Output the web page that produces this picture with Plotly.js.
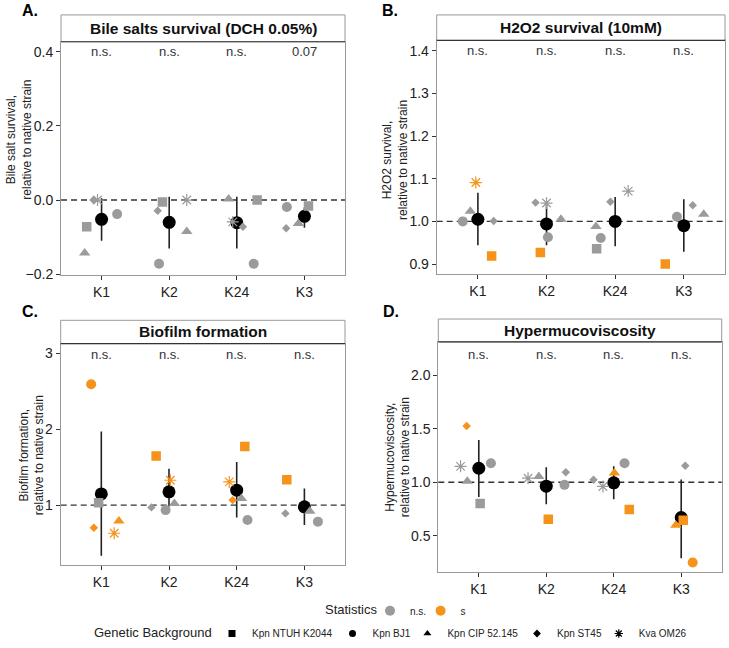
<!DOCTYPE html>
<html><head><meta charset="utf-8">
<script src="https://cdn.plot.ly/plotly-3.0.1.min.js"></script>
<style>html,body{margin:0;padding:0;background:#fff}#chart{width:729px;height:648px}</style>
</head><body><div id="chart"></div>
<script>
// ---------- data ----------
const categories = ['K1', 'K2', 'K24', 'K3'];
const backgrounds = ['Kpn NTUH K2044', 'Kpn BJ1', 'Kpn CIP 52.145', 'Kpn ST45', 'Kva OM26'];
const statLabels = ['n.s.', 's'];

// rows = backgrounds (order as above), cols = categories
const bileVals = [
  [-0.072, -0.005, 0.000, -0.016],
  [-0.038, -0.172, -0.172, -0.019],
  [-0.143, -0.085, 0.003, -0.063],
  [0.000, -0.029, -0.072, -0.076],
  [0.000, 0.000, -0.059, null]
];
const bileSig = [[0,0,0,0],[0,0,0,0],[0,0,0,0],[0,0,0,0],[0,0,0,0]];
const bileJitter = [
  [-0.22, -0.10, 0.30, 0.06],
  [0.23, -0.15, 0.25, -0.26],
  [-0.25, 0.26, -0.12, -0.09],
  [-0.12, -0.17, 0.09, -0.27],
  [-0.06, 0.26, -0.06, 0]
];
const bileMean = [-0.052, -0.060, -0.061, -0.044];
const bileLow = [-0.110, -0.131, -0.131, -0.075];
const bileHigh = [0.005, 0.009, 0.009, -0.020];
const bileP = ['n.s.', 'n.s.', 'n.s.', '0.07'];

const h2o2Vals = [
  [0.919, 0.927, 0.936, 0.900],
  [1.000, 0.963, 0.961, 1.011],
  [1.024, 1.005, 0.988, 1.017],
  [1.001, 1.044, 1.046, 1.038],
  [1.091, 1.043, 1.071, null]
];
const h2o2Sig = [[1,1,0,1],[0,0,0,0],[0,0,0,0],[0,0,0,0],[1,0,0,0]];
const h2o2Jitter = [
  [0.20, -0.09, -0.27, -0.27],
  [-0.22, 0.02, -0.21, -0.10],
  [-0.11, 0.21, -0.28, 0.29],
  [0.23, -0.16, -0.07, 0.13],
  [-0.03, 0.00, 0.19, 0]
];
const h2o2Mean = [1.005, 0.994, 1.000, 0.990];
const h2o2Low = [0.944, 0.944, 0.942, 0.929];
const h2o2High = [1.067, 1.048, 1.057, 1.052];
const h2o2P = ['n.s.', 'n.s.', 'n.s.', 'n.s.'];

const biofilmVals = [
  [1.030, 1.646, 1.773, 1.336],
  [2.594, 0.934, 0.803, 0.782],
  [0.790, 1.020, 1.087, 0.920],
  [0.703, 0.970, 1.066, 0.891],
  [0.629, 1.328, 1.306, null]
];
const biofilmSig = [[0,1,1,1],[1,0,0,0],[1,0,0,0],[1,0,1,0],[1,1,1,0]];
const biofilmJitter = [
  [-0.04, -0.19, 0.12, -0.26],
  [-0.15, -0.05, 0.16, 0.20],
  [0.26, 0.08, 0.07, 0.08],
  [-0.11, -0.26, -0.06, -0.28],
  [0.19, 0.02, -0.11, 0]
];
const biofilmMean = [1.148, 1.175, 1.197, 0.978];
const biofilmLow = [0.332, 0.980, 0.838, 0.738];
const biofilmHigh = [1.970, 1.480, 1.568, 1.218];
const biofilmP = ['n.s.', 'n.s.', 'n.s.', 'n.s.'];

const hmvVals = [
  [0.800, 0.654, 0.744, 0.645],
  [1.176, 0.975, 1.176, 0.250],
  [1.009, 1.052, 1.086, 0.599],
  [1.525, 1.093, 1.022, 1.154],
  [1.148, 1.037, 0.960, null]
];
const hmvSig = [[0,1,1,1],[0,0,0,1],[0,0,1,1],[1,0,0,0],[0,0,0,0]];
const hmvJitter = [
  [0.02, 0.03, 0.23, 0.03],
  [0.18, 0.27, 0.16, 0.17],
  [-0.17, -0.11, 0.01, -0.08],
  [-0.18, 0.29, -0.30, 0.06],
  [-0.27, -0.27, -0.16, 0]
];
const hmvMean = [1.130, 0.963, 0.994, 0.670];
const hmvLow = [0.861, 0.793, 0.840, 0.290];
const hmvHigh = [1.395, 1.139, 1.148, 1.025];
const hmvP = ['n.s.', 'n.s.', 'n.s.', 'n.s.'];

// ---------- styles ----------
const GRAY = '#9b9b9b';
const ORANGE = '#F5931A';
const FONT = 'Liberation Sans, Arial, sans-serif';
const symbols = ['square', 'circle', 'triangle-up', 'diamond', 'asterisk-open'];
const sizes = [9.5, 10, 10, 6.5, 10];

const panels = [
  {ax: '', vals: bileVals, sig: bileSig, jit: bileJitter, mean: bileMean, lo: bileLow, hi: bileHigh, p: bileP,
   ref: 0, pY: 0.4, range: [-0.203, 0.427], ticks: [-0.2, 0, 0.2, 0.4], fmt: '.1f',
   xd: [61/729, 345/729], yd: [1-277/648, 1-42/648], stripTop: 15,
   title: 'Bile salts survival (DCH 0.05%)', ytitle: 'Bile salt survival,<br>relative to native strain',
   yt: [19.5, 141], letter: 'A.', lp: [20, 11]},
  {ax: '2', vals: h2o2Vals, sig: h2o2Sig, jit: h2o2Jitter, mean: h2o2Mean, lo: h2o2Low, hi: h2o2High, p: h2o2P,
   ref: 1, pY: 1.4, range: [0.876, 1.424], ticks: [0.9, 1.0, 1.1, 1.2, 1.3, 1.4], fmt: '.1f',
   xd: [436.7/729, 725/729], yd: [1-276/648, 1-40.7/648], stripTop: 15,
   title: 'H2O2 survival (10mM)', ytitle: 'H2O2 survival,<br>relative to native strain',
   yt: [395, 161], letter: 'B.', lp: [380, 11]},
  {ax: '3', vals: biofilmVals, sig: biofilmSig, jit: biofilmJitter, mean: biofilmMean, lo: biofilmLow, hi: biofilmHigh, p: biofilmP,
   ref: 1, pY: 2.99, range: [0.204, 3.13], ticks: [1, 2, 3], fmt: 'd',
   xd: [60.7/729, 345/729], yd: [1-569/648, 1-345.7/648], stripTop: 322.3,
   title: 'Biofilm formation', ytitle: 'Biofilm formation,<br>relative to native strain',
   yt: [32, 458], letter: 'C.', lp: [20, 313]},
  {ax: '4', vals: hmvVals, sig: hmvSig, jit: hmvJitter, mean: hmvMean, lo: hmvLow, hi: hmvHigh, p: hmvP,
   ref: 1, pY: 2.19, range: [0.16, 2.31], ticks: [0.5, 1.0, 1.5, 2.0], fmt: '.1f',
   xd: [438.3/729, 721.7/729], yd: [1-575.7/648, 1-344/648], stripTop: 321,
   title: 'Hypermucoviscosity', ytitle: 'Hypermucoviscosity,<br>relative to native strain',
   yt: [398, 460], letter: 'D.', lp: [380.7, 313]}
];

const traces = [];
const layout = {
  width: 729, height: 648,
  margin: {l: 0, r: 0, t: 0, b: 0},
  paper_bgcolor: '#fff', plot_bgcolor: '#fff',
  font: {family: FONT, color: '#222'},
  showlegend: true,
  annotations: [], shapes: []
};

const xIdx = categories.map((c, i) => i + 1);

panels.forEach(p => {
  const xa = 'x' + p.ax, ya = 'y' + p.ax;
  // mean + error bars
  traces.push({
    type: 'scatter', mode: 'markers', xaxis: xa, yaxis: ya, showlegend: false, hoverinfo: 'skip',
    x: xIdx, y: p.mean,
    marker: {symbol: 'circle', size: 13, color: '#000'},
    error_y: {type: 'data', symmetric: false,
      array: p.hi.map((h, i) => h - p.mean[i]),
      arrayminus: p.lo.map((l, i) => p.mean[i] - l),
      width: 0, thickness: 1.6, color: '#222'}
  });
  // individual strains
  backgrounds.forEach((b, bi) => {
    const cols = p.sig[bi].map(s => s ? ORANGE : GRAY);
    traces.push({
      type: 'scatter', mode: 'markers', xaxis: xa, yaxis: ya, showlegend: false, hoverinfo: 'skip',
      name: b,
      x: xIdx.map((x, ci) => x + p.jit[bi][ci]),
      y: p.vals[bi],
      marker: {symbol: symbols[bi], size: sizes[bi], color: cols,
        line: {color: cols, width: bi === 4 ? 1.2 : 0}}
    });
  });
  const xKey = 'xaxis' + p.ax, yKey = 'yaxis' + p.ax;
  layout[xKey] = {
    domain: p.xd, anchor: ya, range: [0.4, 4.6],
    tickmode: 'array', tickvals: xIdx, ticktext: categories,
    ticks: 'outside', ticklen: 4, tickwidth: 1, tickcolor: '#333',
    showline: true, mirror: true, linecolor: '#999', linewidth: 1,
    showgrid: false, zeroline: false, fixedrange: true,
    tickfont: {size: 14, color: '#222', family: FONT}
  };
  layout[yKey] = {
    domain: p.yd, anchor: xa, range: p.range,
    tickmode: 'array', tickvals: p.ticks, tickformat: p.fmt,
    ticks: 'outside', ticklen: 4, tickwidth: 1, tickcolor: '#333',
    showline: true, mirror: true, linecolor: '#999', linewidth: 1,
    showgrid: false, zeroline: false, fixedrange: true,
    tickfont: {size: 14, color: '#222', family: FONT}
  };
  // dashed reference line
  layout.shapes.push({type: 'line', xref: xa + ' domain', yref: ya, x0: 0, x1: 1, y0: p.ref, y1: p.ref,
    line: {color: '#333', width: 1.4, dash: '6px,4px'}, layer: 'below'});
  // strip
  layout.shapes.push({type: 'rect', xref: 'paper', yref: 'paper', x0: p.xd[0], x1: p.xd[1],
    y0: p.yd[1], y1: 1 - p.stripTop/648, fillcolor: '#fff', line: {color: '#999', width: 1}});
  layout.shapes.push({type: 'line', xref: 'paper', yref: 'paper', x0: p.xd[0], x1: p.xd[1],
    y0: p.yd[1], y1: p.yd[1], line: {color: '#333', width: 1.2}});
  layout.annotations.push({xref: 'paper', yref: 'paper', x: (p.xd[0] + p.xd[1]) / 2,
    y: (p.yd[1] + 1 - p.stripTop/648) / 2, text: '<b>' + p.title + '</b>', showarrow: false,
    xanchor: 'center', yanchor: 'middle', font: {size: 15.5, color: '#111', family: FONT}});
  // y title
  layout.annotations.push({xref: 'paper', yref: 'paper', x: p.yt[0]/729, y: 1 - p.yt[1]/648,
    text: p.ytitle, textangle: -90, showarrow: false, xanchor: 'center', yanchor: 'middle',
    font: {size: 12, color: '#222', family: FONT}});
  // panel letter
  layout.annotations.push({xref: 'paper', yref: 'paper', x: p.lp[0]/729, y: 1 - p.lp[1]/648,
    text: '<b>' + p.letter + '</b>', showarrow: false, xanchor: 'left', yanchor: 'middle',
    font: {size: 16, color: '#000', family: FONT}});
  // p-value labels
  p.p.forEach((t, i) => {
    layout.annotations.push({xref: xa, yref: ya, x: xIdx[i], y: p.pY, text: t, showarrow: false,
      xanchor: 'center', yanchor: 'middle', font: {size: 13, color: '#333', family: FONT}});
  });
});

// ---------- legends (one Plotly legend per key, so each key sits where the reference puts it) ----------
const statKeyX = [390, 440.6];
const bgKeyX = [232, 352.5, 427.4, 537, 618.8];
const statRowY = 614.5, bgRowY = 637.5;
let legendN = 0;
function addLegend(keyX, rowY) {
  legendN += 1;
  const key = legendN === 1 ? 'legend' : 'legend' + legendN;
  layout[key] = {orientation: 'h', x: (keyX - 20) / 729, xanchor: 'left', y: 1 - rowY / 648, yanchor: 'middle',
    font: {size: 10, color: '#222', family: FONT}, bgcolor: 'rgba(0,0,0,0)',
    itemclick: false, itemdoubleclick: false};
  return key;
}
statLabels.forEach((s, i) => {
  traces.push({type: 'scatter', mode: 'markers', x: [null], y: [null], xaxis: 'x', yaxis: 'y',
    name: s, legend: addLegend(statKeyX[i], statRowY), showlegend: true,
    marker: {symbol: 'circle', size: 10, color: i ? ORANGE : GRAY}});
});
backgrounds.forEach((b, bi) => {
  traces.push({type: 'scatter', mode: 'markers', x: [null], y: [null], xaxis: 'x', yaxis: 'y',
    name: b, legend: addLegend(bgKeyX[bi], bgRowY), showlegend: true,
    marker: {symbol: symbols[bi], size: bi === 3 ? 6 : 7, color: '#000',
      line: {color: '#000', width: bi === 4 ? 1.2 : 0}}});
});
layout.annotations.push({xref: 'paper', yref: 'paper', x: 323/729, y: 1 - 613.5/648, text: 'Statistics',
  showarrow: false, xanchor: 'left', yanchor: 'middle', font: {size: 13, color: '#222', family: FONT}});
layout.annotations.push({xref: 'paper', yref: 'paper', x: 92/729, y: 1 - 636.5/648, text: 'Genetic Background',
  showarrow: false, xanchor: 'left', yanchor: 'middle', font: {size: 13, color: '#222', family: FONT}});

Plotly.newPlot('chart', traces, layout, {displayModeBar: false, staticPlot: true});
</script>
</body></html>
